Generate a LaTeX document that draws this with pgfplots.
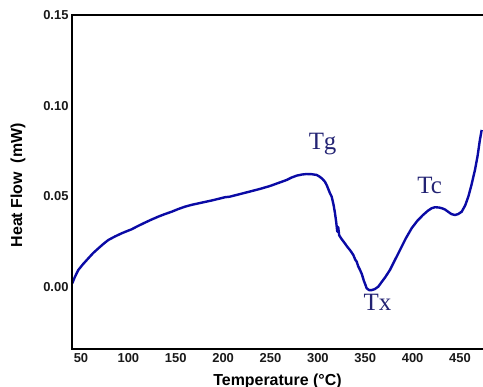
\documentclass[border=0pt]{standalone}
\usepackage{fontspec}
\setmainfont{Liberation Serif}
\newfontfamily\arial{Liberation Sans}
\usepackage{pgfplots}
\pgfplotsset{compat=1.18}
\definecolor{curve}{RGB}{10,10,165}
\definecolor{annot}{RGB}{35,35,115}
\begin{document}
\begin{tikzpicture}
\begin{axis}[
  scale only axis,
  width=411bp, height=334bp,
  xmin=40.5, xmax=474.3,
  ymin=-0.0342, ymax=0.15,
  xtick={50,100,...,450},
  ytick={0,0.05,0.10,0.15},
  major tick length=0pt,
  axis line style={draw=none},
  /pgf/number format/assume math mode=true,
  ticklabel style={font=\arial\bfseries\fontsize{13}{13}\selectfont, text=black!90},
  yticklabel style={/pgf/number format/.cd, fixed, fixed zerofill, precision=2},
  xticklabel style={yshift=-1bp},
  xlabel={Temperature (°C)},
  ylabel={Heat Flow\ \ (mW)},
  label style={font=\arial\bfseries\fontsize{16}{16}\selectfont},
  xlabel style={at={(rel axis cs:0.5,0)}, anchor=center, yshift=-32bp},
  ylabel style={at={(axis description cs:-0.1314,0.49)}, anchor=center},
  clip=false,
]
\addplot[curve, line width=2.4bp, line join=round] coordinates {
(40.8,0.0020) (43.5,0.0055) (47.2,0.0094) (52,0.0125) (57.7,0.0158) (63,0.0188) (68.3,0.0213)
(73.5,0.0237) (78.8,0.0259) (86,0.0279) (92.9,0.0296) (98,0.0307) (103.4,0.0318)
(110,0.0336) (117.5,0.0355) (124.5,0.0372) (131.6,0.0388) (138.5,0.0402) (145.7,0.0415)
(152.7,0.0430) (159.8,0.0443) (166.8,0.0453) (173.8,0.0461) (180.8,0.0469) (187.9,0.0477)
(195,0.0486) (202,0.0495) (207,0.0498) (217.5,0.0512) (228,0.0526) (239,0.0541)
(249.5,0.0557) (258,0.0573) (267,0.0590) (272,0.0603) (277.6,0.0614) (283,0.0620)
(288,0.0623) (293.5,0.0622) (298.7,0.0618) (302,0.0608) (305,0.0595) (307.5,0.0580)
(309.5,0.0560) (312.8,0.0517) (314.6,0.0498) (316.5,0.0455) (318,0.0410) (319.3,0.0360)
(320.5,0.0305) (321.5,0.0330) (322.5,0.0285) (325,0.0265) (328.6,0.0240) (331,0.0222)
(334,0.0203) (337.4,0.0177) (339.5,0.0150) (341,0.0140) (342.5,0.0115) (344.5,0.0094)
(346.5,0.0070) (348.5,0.0035) (350,0.0015) (351.5,-0.0007) (354,-0.0017) (356.8,-0.0017)
(360,-0.0012) (363.8,0.0002) (367,0.0025) (371,0.0053) (376.1,0.0094) (381,0.0145)
(386.7,0.0204) (392.5,0.0265) (399,0.0324) (405,0.0365) (411,0.0397) (416,0.0420)
(420,0.0434) (423.6,0.0440) (428,0.0438) (431,0.0434) (434,0.0428) (438,0.0413)
(441,0.0402) (444.7,0.0397) (448,0.0402) (451.8,0.0415) (455.5,0.0450) (458.8,0.0498)
(462,0.0560) (465.8,0.0645) (468.5,0.0720) (471,0.0810) (472.9,0.0866)
};
\draw[black, line width=1.8bp, line cap=rect] (rel axis cs:1,1) -- (rel axis cs:0,1) -- (rel axis cs:0,0) -- (rel axis cs:1,0);
\node[text=annot, font=\fontsize{25}{25}\selectfont] at (axis cs:305,0.0790) {Tg};
\node[text=annot, font=\fontsize{25}{25}\selectfont] at (axis cs:418,0.0560) {Tc};
\node[text=annot, font=\fontsize{25}{25}\selectfont] at (axis cs:363,-0.0083) {Tx};
\end{axis}
\pgfresetboundingbox
\useasboundingbox (-72bp,-38bp) rectangle (411bp,349bp);
\end{tikzpicture}
\end{document}
